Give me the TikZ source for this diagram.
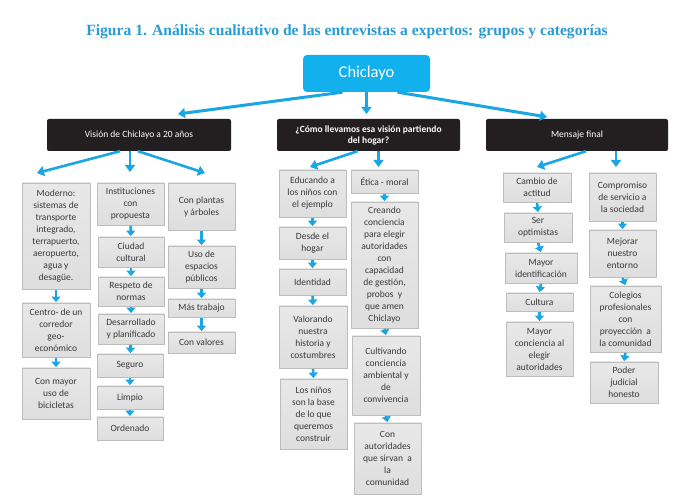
\documentclass[tikz,border=0pt]{standalone}
\usepackage{fontspec}
\setmainfont{Liberation Serif}
\newfontfamily\boxfont{Carlito}
\usetikzlibrary{arrows.meta,shadows}
\definecolor{arrblue}{HTML}{1AA6E4}
\definecolor{chicblue}{HTML}{12B0EC}
\definecolor{titleblue}{HTML}{2B9BD3}
\definecolor{boxfill}{HTML}{DEDEDE}
\definecolor{boxline}{HTML}{BDBDBD}
\definecolor{boxtext}{HTML}{3A3A3A}
\definecolor{darkbox}{HTML}{231F20}
\newcommand\bx[6]{%
  \pgfmathsetmacro\bw{#4-#2}\pgfmathsetmacro\bh{#5-#3}%
  \pgfmathsetmacro\cx{(#2+#4)/2}\pgfmathsetmacro\cy{(#3+#5)/2}%
  \node[gbox, minimum width=\bw pt, minimum height=\bh pt] (#1) at (\cx,\cy) {#6};}
\newcommand\kbx[6]{%
  \pgfmathsetmacro\bw{#4-#2}\pgfmathsetmacro\bh{#5-#3}%
  \pgfmathsetmacro\cx{(#2+#4)/2}\pgfmathsetmacro\cy{(#3+#5)/2}%
  \node[kbox, minimum width=\bw pt, minimum height=\bh pt] (#1) at (\cx,\cy) {#6};}
\begin{document}
\begin{tikzpicture}[x=1pt,y=-1pt,
  gbox/.style={draw=boxline, line width=0.8pt, top color=boxfill!70, bottom color=boxfill, text=boxtext,
    font=\boxfont\fontsize{9.5}{12}\selectfont, align=center, inner sep=1pt,
    drop shadow={shadow xshift=0.8pt, shadow yshift=-0.8pt, fill=gray!45, opacity=0.6}},
  kbox/.style={fill=darkbox, rounded corners=2pt, text=white, font=\boxfont\fontsize{9.5}{11}\selectfont,
    align=center, inner sep=1pt},
  bigarr/.style={draw=arrblue, line width=3pt, -{Triangle[length=7pt,width=10pt]}},
  sarr/.style={draw=arrblue, line width=2.6pt, -{Triangle[length=5.5pt,width=9pt]}, shorten >=0.5pt, shorten <=0.5pt},
]
\useasboundingbox (0,0) rectangle (697,502);
\fill[white] (0,0) rectangle (697,502);
% title
\node[text=titleblue, font=\bfseries\fontsize{15.6}{17}\selectfont] (title) at (347,32)
  {Figura 1. Análisis cualitativo de las entrevistas a expertos: grupos y categorías};
% root
\node[fill=chicblue, rounded corners=4pt, minimum width=127pt, minimum height=37pt, text=white,
  font=\boxfont\fontsize{16.5}{18}\selectfont] (chic) at (366.5,73.5) {Chiclayo};
% black boxes
\kbx{vis}{47}{119}{231}{151}{Visión de Chiclayo a 20 años}
\kbx{como}{277}{119}{460}{151}{\bfseries ¿Cómo llevamos esa visión partiendo\\\bfseries del hogar?}
\kbx{men}{486}{119}{668}{151}{Mensaje final}
% top arrows
\coordinate (t1) at (178,114);
\coordinate (t2) at (366.5,114);
\coordinate (t3) at (547,117);
\draw[bigarr] ([xshift=-24pt]chic.south) -- (t1);
\draw[bigarr] (chic.south) -- (t2);
\draw[bigarr] ([xshift=31pt]chic.south) -- (t3);
% column 1
\bx{mod}{22}{183}{90}{289}{Moderno:\\ sistemas de\\ transporte\\ integrado,\\ terrapuerto,\\ aeropuerto,\\ agua y\\ desagüe.}
\bx{cen}{22}{303}{90}{357}{Centro- de un\\ corredor\\ geo-\\ económico}
\bx{bic}{22}{368}{90}{419}{Con mayor\\ uso de\\ bicicletas}
% column 2
\bx{ins}{97}{183}{164}{225}{Instituciones\\ con\\ propuesta}
\bx{ciu}{98}{237}{164}{267}{Ciudad\\ cultural}
\bx{res}{98}{277}{164}{306}{Respeto de\\ normas}
\bx{des}{98}{314}{164}{344}{Desarrollado\\ y planificado}
\bx{seg}{97}{354}{163}{377}{Seguro}
\bx{lim}{97}{386}{163}{409}{Limpio}
\bx{ord}{97}{417}{163}{440}{Ordenado}
% column 3
\bx{pla}{168}{183}{235}{230}{Con plantas\\ y árboles}
\bx{uso}{168}{246}{235}{288}{Uso de\\ espacios\\ públicos}
\bx{mas}{168}{299}{235}{317}{Más trabajo}
\bx{val}{168}{332}{235}{353}{Con valores}
% middle group
\bx{edu}{279}{170}{346}{217}{Educando a\\ los niños con\\ el ejemplo}
\bx{hog}{279}{227}{346}{259}{Desde el\\ hogar}
\bx{ide}{279}{269}{346}{295}{Identidad}
\bx{vlo}{279}{306}{347}{368}{Valorando\\ nuestra\\ historia y\\ costumbres}
\bx{nin}{280}{379}{347}{449}{Los niños\\ son la base\\ de lo que\\ queremos\\ construir}
\bx{eti}{351}{170}{418}{193}{Ética - moral}
\bx{cre}{351}{202}{418}{328}{Creando\\ conciencia\\ para elegir\\ autoridades\\ con\\ capacidad\\ de gestión,\\ probos\ \ y\\ que amen\\ Chiclayo}
\bx{cul}{352}{336}{420}{415}{Cultivando\\ conciencia\\ ambiental y\\ de\\ convivencia}
\bx{aut}{354}{423}{421}{494}{Con\\ autoridades\\ que sirvan\ \ a\\ la\\ comunidad}
% mensaje final
\bx{cam}{503}{173}{571}{202}{Cambio de\\ actitud}
\bx{ser}{504}{213}{572}{242}{Ser\\ optimistas}
\bx{may}{505}{253}{577}{283}{Mayor\\ identificación}
\bx{cult}{506}{293}{573}{311}{Cultura}
\bx{mco}{506}{322}{573}{376}{Mayor\\ conciencia al\\ elegir\\ autoridades}
\bx{com}{589}{173}{656}{221}{Compromiso\\ de servicio a\\ la sociedad}
\bx{mej}{589}{230}{656}{277}{Mejorar\\ nuestro\\ entorno}
\bx{col}{590}{286}{661}{352}{Colegios\\ profesionales\\ con\\ proyección\ \ a\\ la comunidad}
\bx{pod}{590}{362}{658}{403}{Poder\\ judicial\\ honesto}
% arrows from black boxes
\coordinate (a1) at (37,173);
\coordinate (a3) at (205,173);
\coordinate (b1) at (310,167);
\coordinate (c1) at (537,167);
\draw[bigarr, line width=2.6pt] ([xshift=-19pt]vis.south) -- (a1);
\draw[bigarr, line width=2.6pt] ([xshift=-9pt]vis.south) -- ([xshift=-9pt]vis.south |- 0,172);
\draw[bigarr, line width=2.6pt] ([xshift=-1pt]vis.south) -- (a3);
\draw[bigarr, line width=2.6pt] ([xshift=-11pt]como.south) -- (b1);
\draw[bigarr, line width=2.6pt] ([xshift=10pt]como.south) -- ([xshift=10pt]como.south |- 0,167);
\draw[bigarr, line width=2.6pt] ([xshift=9pt]men.south) -- (c1);
\draw[bigarr, line width=2.6pt] ([xshift=39pt]men.south) -- ([xshift=39pt]men.south |- 0,167);
% chains
\draw[sarr] (mod) -- (cen);
\draw[sarr] (cen) -- (bic);
\draw[sarr] (ins) -- (ciu);
\draw[sarr] (ciu) -- (res);
\draw[sarr] (res) -- (des);
\draw[sarr] (des) -- (seg);
\draw[sarr] (seg) -- (lim);
\draw[sarr] (lim) -- (ord);
\draw[sarr] (pla) -- (uso);
\draw[sarr] (uso) -- (mas);
\draw[sarr] (mas) -- (val);
\draw[sarr] (edu.south) -- (hog.north);
\draw[sarr] (hog.south) -- (ide.north);
\draw[sarr] (ide.south) -- (vlo.north);
\draw[sarr] (vlo.south) -- (nin.north);
\draw[sarr] (eti.south) -- (cre.north);
\draw[sarr] (cre.south) -- (cul.north);
\draw[sarr] (cul.south) -- (aut.north);
\draw[sarr] (cam.south) -- (ser.north);
\draw[sarr] (ser.south) -- (may.north);
\draw[sarr] (may.south) -- (cult.north);
\draw[sarr] (cult.south) -- (mco.north);
\draw[sarr] (com.south) -- (mej.north);
\draw[sarr] (mej.south) -- (col.north);
\draw[sarr] (col.south) -- (pod.north);
\end{tikzpicture}
\end{document}
